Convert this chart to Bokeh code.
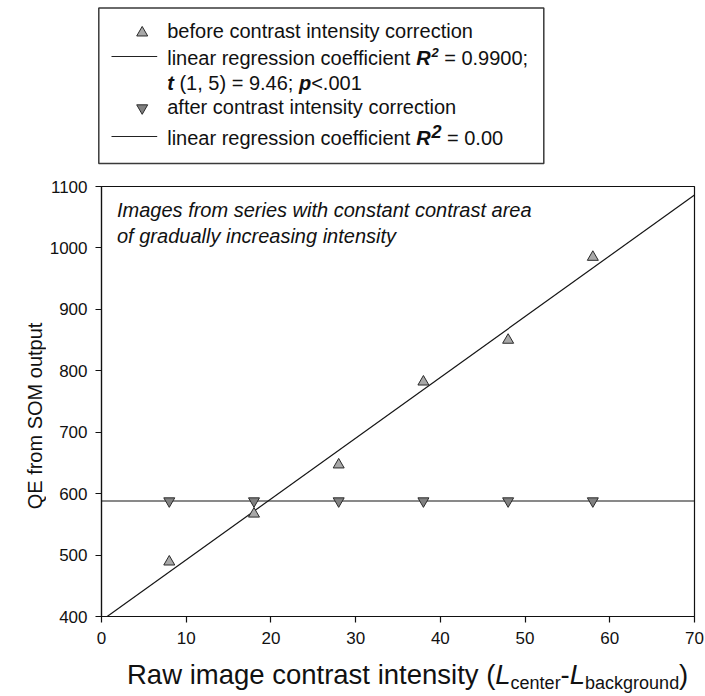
import numpy as np
from bokeh.plotting import figure
from bokeh.models import Range1d, FixedTicker
from bokeh.layouts import column, row
from bokeh.embed import file_html
from bokeh.resources import INLINE
from bokeh.core.properties import value

# ---------------- data ----------------
x_contrast = [8, 18, 28, 38, 48, 58]
qe_before = [489, 567, 647, 782, 850, 985]
qe_after = [588, 588, 588, 588, 588, 588]
x_ticks = [0, 10, 20, 30, 40, 50, 60, 70]
y_ticks = [400, 500, 600, 700, 800, 900, 1000, 1100]
x_lim = (0, 70)
y_lim = (400, 1100)

leg_before = "before contrast intensity correction"
leg_after = "after contrast intensity correction"
leg_reg = "linear regression coefficient "
r2_before = " = 0.9900;"
stat_t = " (1, 5) = 9.46; "
stat_p = "<.001"
r2_after = " = 0.00"
note_lines = ["Images from series with constant contrast area",
              "of gradually increasing intensity"]
y_title = "QE from SOM output"
x_title_parts = ["Raw image contrast intensity (", "L", "center", "-", "L", "background", ")"]

# ---------------- style ----------------
FONT = "Liberation Sans"
TXT = "#111111"
BASE_FIX = 0.37  # em correction for where the alphabetic baseline is drawn
W_REG = {' ': 278, '(': 333, ')': 333, ',': 278, '-': 333, '.': 278, ';': 278, '<': 584, '=': 584,
         'I': 278, 'L': 556, 'R': 722, 'Q': 778, 'E': 667, 'S': 667, 'O': 778, 'M': 833,
         'a': 556, 'b': 556, 'c': 500, 'd': 556, 'e': 556, 'f': 278, 'g': 556, 'h': 556, 'i': 222,
         'k': 500, 'l': 222, 'm': 833, 'n': 556, 'o': 556, 'p': 556, 'r': 333, 's': 500, 't': 278,
         'u': 556, 'w': 722, 'y': 500}
W_BOLD = {'R': 722, 't': 333, 'p': 611, '2': 556}


def tw(s, size, bold=False):
    tot = 0
    for ch in s:
        if bold and ch in W_BOLD:
            tot += W_BOLD[ch]
        else:
            tot += W_REG.get(ch, 556)
    return tot * size / 1000.0


def put(f, x, y, s, size, style="normal", align="left", baseline="alphabetic", angle=0.0, fix=True):
    n_lead = len(s) - len(s.lstrip(" "))
    x = x + tw(" " * n_lead, size)
    s = s.strip(" ")
    if baseline == "alphabetic" and fix:
        y = y - BASE_FIX * size
    f.text(x=[x], y=[y], text=[s], text_font=value(FONT), text_font_size=value(f"{size}px"),
           text_font_style=value(style), text_align=value(align), text_baseline=value(baseline),
           angle=angle, text_color=TXT)


def page_fig(x0, y0, w, h):
    f = figure(width=w, height=h, x_range=Range1d(x0, x0 + w), y_range=Range1d(y0 + h, y0),
               output_backend="svg", toolbar_location=None, min_border=0, title=None,
               x_axis_location=None, y_axis_location=None, outline_line_color=None)
    f.grid.visible = False
    return f


# ---------------- legend (page coordinates) ----------------
leg = page_fig(0, 0, 705, 178)
leg.quad(left=[98.3], right=[543.3], top=[7.5], bottom=[163], fill_color=None,
         line_color="#3a3a3a", line_width=1.5)
tx0 = 166.7
fs = 20
rows_base = [37.5, 65, 89.5, 113.5, 144.5]
leg.scatter([141.7], [32.3], marker="triangle", size=11, fill_color="#a8a8a8",
            line_color="#2a2a2a", line_width=1)
leg.scatter([141.7], [107.5], marker="inverted_triangle", size=11, fill_color="#808080",
            line_color="#2a2a2a", line_width=1)
leg.line([111, 156.7], [56, 56], line_color="#222222", line_width=1.2)
leg.line([111, 156.7], [136, 136], line_color="#222222", line_width=1.2)

put(leg, tx0, rows_base[0], leg_before, fs)
# row 2
put(leg, tx0, rows_base[1], leg_reg, fs)
xr_ = tx0 + tw(leg_reg, fs)
put(leg, xr_, rows_base[1], "R", fs, "bold italic")
xs_ = xr_ + tw("R", fs, True) + 0.8
put(leg, xs_, rows_base[1] - 8, "2", 13, "bold italic")
put(leg, xs_ + tw("2", 13, True), rows_base[1], r2_before, fs)
# row 3
put(leg, tx0, rows_base[2], "t", fs, "bold italic")
x3 = tx0 + tw("t", fs, True)
put(leg, x3, rows_base[2], stat_t, fs)
x3 += tw(stat_t, fs)
put(leg, x3, rows_base[2], "p", fs, "bold italic")
x3 += tw("p", fs, True)
put(leg, x3, rows_base[2], stat_p, fs)
# row 4
put(leg, tx0, rows_base[3], leg_after, fs)
# row 5
put(leg, tx0, rows_base[4], leg_reg, fs)
put(leg, xr_, rows_base[4], "R", fs, "bold italic")
put(leg, xs_, rows_base[4] - 7, "2", 18, "bold italic")
put(leg, xs_ + tw("2", 18, True), rows_base[4], r2_after, fs)

# ---------------- main plot ----------------
p = figure(width=659, height=476, x_range=Range1d(*x_lim), y_range=Range1d(*y_lim),
           output_backend="svg", toolbar_location=None, title=None,
           min_border_left=53, min_border_right=11, min_border_top=8, min_border_bottom=38,
           outline_line_color="#111111", outline_line_width=1.2)
p.grid.visible = False
for ax in (p.xaxis[0], p.yaxis[0]):
    ax.axis_line_color = "#111111"
    ax.axis_line_width = 1.2
    ax.major_tick_line_color = "#111111"
    ax.major_tick_line_width = 1.2
    ax.major_tick_out = 6
    ax.major_tick_in = 0
    ax.minor_tick_line_color = None
    ax.major_label_text_font = FONT
    ax.major_label_text_font_size = "17px"
    ax.major_label_text_color = TXT
p.xaxis[0].ticker = FixedTicker(ticks=x_ticks)
p.yaxis[0].ticker = FixedTicker(ticks=y_ticks)
p.xaxis[0].major_label_standoff = 9
p.yaxis[0].major_label_standoff = 8

slope, icpt = np.polyfit(x_contrast, qe_before, 1)
xs = np.array(x_lim, dtype=float)
p.line(xs, icpt + slope * xs, line_color="#151515", line_width=1.2)
p.line(xs, [float(np.mean(qe_after))] * 2, line_color="#151515", line_width=1.2)
p.scatter(x_contrast, qe_before, marker="triangle", size=11, fill_color="#a8a8a8",
          line_color="#2a2a2a", line_width=1)
p.scatter(x_contrast, qe_after, marker="inverted_triangle", size=11, fill_color="#808080",
          line_color="#2a2a2a", line_width=1)

for i, ln in enumerate(note_lines):
    p.text(x=[x_lim[0]], y=[y_lim[1]], text=[ln], x_offset=15.5,
           y_offset=31 + 26 * i - BASE_FIX * 20,
           text_font=value(FONT), text_font_size=value("20px"), text_font_style=value("italic"),
           text_align=value("left"), text_baseline=value("alphabetic"), text_color=TXT)

# ---------------- y title ----------------
ytf = page_fig(0, 178, 46, 476)
put(ytf, 34, 432, y_title, 20, align="center", baseline="middle", angle=np.pi / 2)

# ---------------- x title ----------------
xtf = page_fig(0, 654, 705, 42)
main_fs, sub_fs = 27.5, 18
base_main, base_sub = 684, 689
xx = 126.5
styles = [("normal", main_fs, base_main), ("italic", main_fs, base_main), ("normal", sub_fs, base_sub),
          ("normal", main_fs, base_main), ("italic", main_fs, base_main), ("normal", sub_fs, base_sub),
          ("normal", main_fs, base_main)]
for part, (st, sz, bl) in zip(x_title_parts, styles):
    put(xtf, xx, bl, part, sz, st)
    xx += tw(part, sz)

layout = column(leg, row(ytf, p), xtf)
open("out.html", "w").write(file_html(layout, INLINE))
